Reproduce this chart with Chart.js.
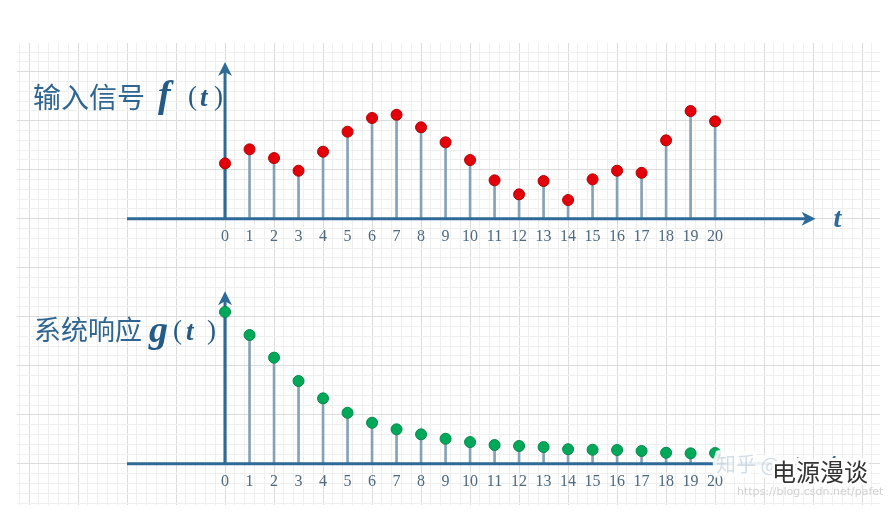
<!DOCTYPE html>
<html>
<head>
<meta charset="utf-8">
<script src="https://cdn.jsdelivr.net/npm/chart.js@4.4.1/dist/chart.umd.min.js"></script>
<style>
  html, body { margin: 0; padding: 0; background: #fff; }
  #wrap { width: 888px; height: 512px; }
</style>
</head>
<body>
<div id="wrap"><canvas id="grafico" width="888" height="512"></canvas></div>
<script>
// datos (unidad = una cuadricula pequena)
const tLabels = ['0','1','2','3','4','5','6','7','8','9','10','11','12','13','14','15','16','17','18','19','20'];
const fValues = [5.65, 7.08, 6.19, 4.9, 6.84, 8.88, 10.28, 10.61, 9.33, 7.8, 5.99, 3.92, 2.49, 3.85, 1.91, 4.02, 4.9, 4.69, 8.0, 10.99, 9.94];
const gValues = [15.49, 13.14, 10.83, 8.45, 6.68, 5.21, 4.19, 3.52, 3.01, 2.56, 2.22, 1.92, 1.82, 1.71, 1.49, 1.44, 1.41, 1.31, 1.13, 1.07, 1.1];

const topTitle = '输入信号';
const botTitle = '系统响应';
const axisColor = '#2e6a97';
const stemColor = '#86a2b6';
const labelColor = '#4e6a81';

// rango de las escalas
const X_MIN = -8.49, X_MAX = 26.73;
const YT_MIN = -29.2, YT_MAX = 17.93;
const SHIFT = 25; // eje inferior desplazado 25 unidades

function pts(values) {
    return values.map((v, i) => ({ x: Number(tLabels[i]), y: v }));
}

function arrowUp(ctx, x, y) {
    ctx.beginPath();
    ctx.moveTo(x, y);
    ctx.lineTo(x - 7, y + 14);
    ctx.lineTo(x, y + 10);
    ctx.lineTo(x + 7, y + 14);
    ctx.closePath();
    ctx.fill();
}
function arrowRight(ctx, x, y) {
    ctx.beginPath();
    ctx.moveTo(x, y);
    ctx.lineTo(x - 14, y - 7);
    ctx.lineTo(x - 10, y);
    ctx.lineTo(x - 14, y + 7);
    ctx.closePath();
    ctx.fill();
}

// ejes con flecha y etiquetas 0..20
const ejesPlugin = {
    id: 'ejes',
    afterDatasetDraw(chart, args) {
        if (args.index !== 1) return;
        const ctx = chart.ctx;
        const xs = chart.scales.x;
        const panels = [
            { scale: chart.scales.yTop, tip: 16.0, right: 24.1 },
            { scale: chart.scales.yBot, tip: 17.6, right: 23.9 }
        ];
        ctx.save();
        ctx.strokeStyle = axisColor;
        ctx.fillStyle = axisColor;
        ctx.lineWidth = 3;
        panels.forEach(p => {
            const y0 = p.scale.getPixelForValue(0);
            const x0 = xs.getPixelForValue(0);
            const xl = xs.getPixelForValue(-4);
            const xr = xs.getPixelForValue(p.right);
            const yt = p.scale.getPixelForValue(p.tip);
            ctx.beginPath();
            ctx.moveTo(xl, y0);
            ctx.lineTo(xr - 8, y0);
            ctx.stroke();
            arrowRight(ctx, xr, y0);
            ctx.beginPath();
            ctx.moveTo(x0, y0);
            ctx.lineTo(x0, yt + 8);
            ctx.stroke();
            arrowUp(ctx, x0, yt);
            // etiquetas
            ctx.font = '16px "Liberation Serif"';
            ctx.textAlign = 'center';
            ctx.textBaseline = 'middle';
            ctx.fillStyle = labelColor;
            tLabels.forEach(l => {
                ctx.fillText(l, xs.getPixelForValue(Number(l)), y0 + 18);
            });
            ctx.fillStyle = axisColor;
            ctx.font = 'italic bold 28px "Liberation Serif"';
            ctx.textAlign = 'left';
            ctx.fillText('t', xr + 18, y0 + 1);
        });
        ctx.restore();
    },
    afterDraw(chart) {
        const ctx = chart.ctx;
        ctx.save();
        // titulos
        ctx.textBaseline = 'middle';
        ctx.textAlign = 'left';
        ctx.fillStyle = '#2f6590';
        ctx.font = '28px "Noto Sans CJK SC"';
        ctx.fillText(topTitle, 33, 97);
        ctx.font = '27px "Noto Sans CJK SC"';
        ctx.fillText(botTitle, 34, 330);
        ctx.fillStyle = '#245a86';
        ctx.font = 'italic bold 38px "Liberation Serif"';
        ctx.fillText('f', 158, 97);
        ctx.fillText('g', 149, 332);
        ctx.font = '27px "Liberation Serif"';
        ctx.fillText('(', 188, 98);
        ctx.fillText(')', 214, 98);
        ctx.fillText('(', 173, 332);
        ctx.fillText(')', 207, 332);
        ctx.font = 'italic bold 27px "Liberation Serif"';
        ctx.fillText('t', 200, 99);
        ctx.fillText('t', 186, 333);

        // marca de agua
        ctx.lineJoin = 'round';
        ctx.font = '20px "Noto Sans CJK SC"';
        ctx.strokeStyle = 'rgba(255,255,255,0.9)';
        ctx.lineWidth = 8;
        ctx.strokeText('知乎 @', 716, 464);
        ctx.fillStyle = 'rgba(170,190,205,0.5)';
        ctx.fillText('知乎 @', 716, 464);
        ctx.font = '24px "Noto Sans CJK SC"';
        ctx.strokeStyle = '#fff';
        ctx.lineWidth = 6;
        ctx.strokeText('电源漫谈', 772, 472);
        ctx.fillStyle = '#333';
        ctx.fillText('电源漫谈', 772, 472);
        ctx.font = '11px "DejaVu Sans"';
        ctx.fillStyle = '#d2d2d2';
        ctx.fillText('https://blog.csdn.net/pafet', 737, 492);
        ctx.restore();
    }
};

function ticksStep(min, max, step) {
    const out = [];
    for (let k = Math.ceil(min / step); k * step <= max; k++) {
        out.push({ value: +(k * step).toFixed(4) });
    }
    return out;
}
function isMult(v, m) {
    return Math.abs(v / m - Math.round(v / m)) < 1e-6;
}

const ctx = document.getElementById('grafico').getContext('2d');
new Chart(ctx, {
    type: 'scatter',
    data: {
        datasets: [{
            type: 'bar',
            label: 'f stems',
            data: pts(fValues),
            yAxisID: 'yTop',
            backgroundColor: stemColor,
            barThickness: 2,
            grouped: false,
            order: 4
        },
        {
            type: 'bar',
            label: 'g stems',
            data: pts(gValues),
            yAxisID: 'yBot',
            backgroundColor: stemColor,
            barThickness: 2,
            grouped: false,
            order: 3
        },
        {
            label: 'f(t)',
            data: pts(fValues),
            yAxisID: 'yTop',
            backgroundColor: '#e3000b',
            borderColor: '#b30000',
            borderWidth: 1,
            pointRadius: 5.5,
            pointHoverRadius: 5.5,
            order: 2
        },
        {
            label: 'g(t)',
            data: pts(gValues),
            yAxisID: 'yBot',
            backgroundColor: '#00a85a',
            borderColor: '#008a48',
            borderWidth: 1,
            pointRadius: 5.5,
            pointHoverRadius: 5.5,
            order: 1
        }]
    },
    options: {
        responsive: false,
        devicePixelRatio: 1,
        animation: false,
        layout: { padding: { left: 17, right: 8, top: 43, bottom: 7 } },
        plugins: {
            legend: { display: false },
            tooltip: { enabled: false }
        },
        scales: {
            x: {
                type: 'linear',
                min: X_MIN,
                max: X_MAX,
                offset: false,
                ticks: { display: false },
                border: { display: false },
                grid: {
                    drawTicks: false,
                    offset: false,
                    color: c => isMult(c.tick.value, 2) ? '#dcdcdc' : '#efefef'
                },
                afterBuildTicks: axis => { axis.ticks = ticksStep(X_MIN, X_MAX, 0.4); }
            },
            yTop: {
                type: 'linear',
                position: 'left',
                min: YT_MIN,
                max: YT_MAX,
                ticks: { display: false },
                border: { display: false },
                grid: {
                    drawTicks: false,
                    color: c => isMult(c.tick.value, 5) ? '#dcdcdc' : '#efefef'
                },
                afterBuildTicks: axis => { axis.ticks = ticksStep(YT_MIN, YT_MAX, 1); }
            },
            yBot: {
                type: 'linear',
                display: false,
                min: YT_MIN + SHIFT,
                max: YT_MAX + SHIFT
            }
        }
    },
    plugins: [ejesPlugin]
});
</script>
</body>
</html>
